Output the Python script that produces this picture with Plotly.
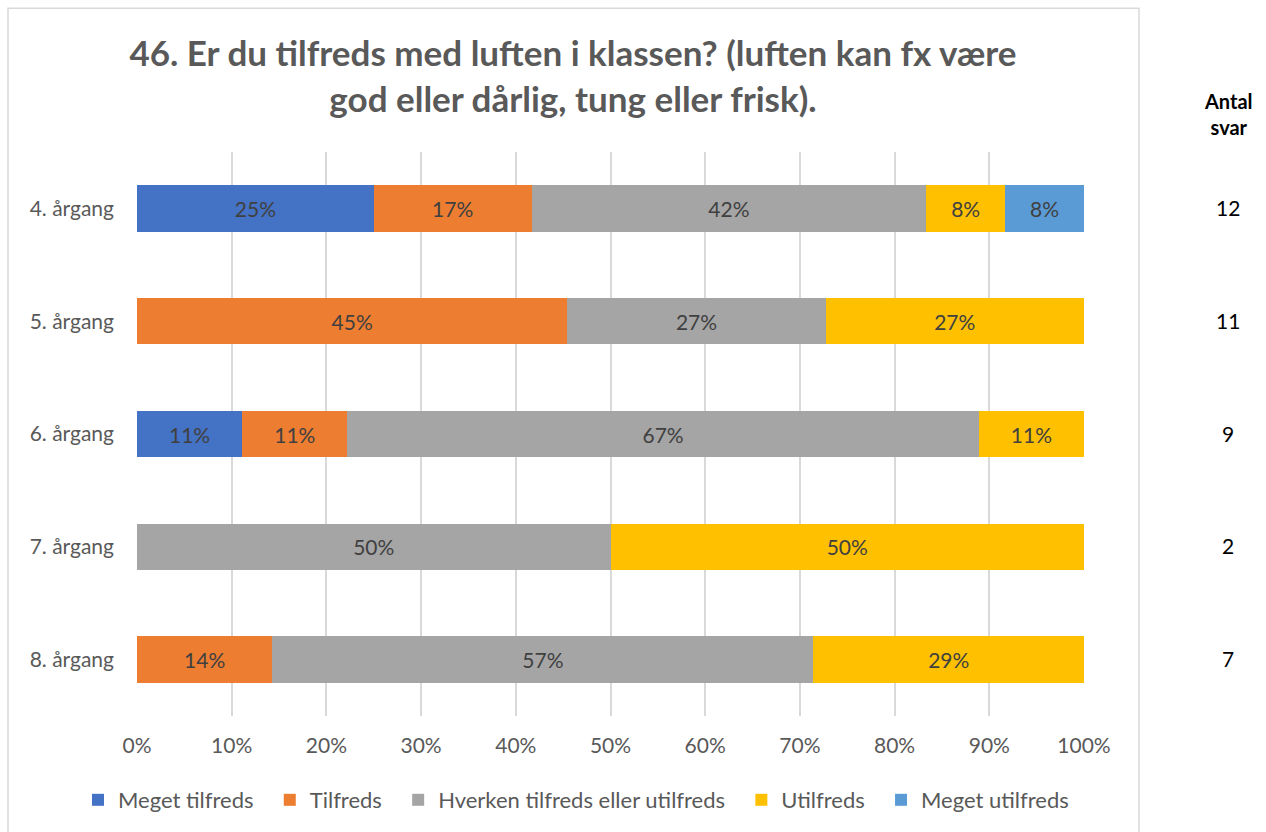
import plotly.graph_objects as go

# Survey answers per grade (share of respondents, %)
grades = ["4. årgang", "5. årgang", "6. årgang", "7. årgang", "8. årgang"]
answers = ["Meget tilfreds", "Tilfreds", "Hverken tilfreds eller utilfreds",
           "Utilfreds", "Meget utilfreds"]
meget_tilfreds = [25.0, 0, 11.11, 0, 0]
tilfreds = [16.67, 45.45, 11.11, 0, 14.29]
hverken = [41.67, 27.27, 66.67, 50.0, 57.14]
utilfreds = [8.33, 27.27, 11.11, 50.0, 28.57]
meget_utilfreds = [8.33, 0, 0, 0, 0]
antal_svar = [12, 11, 9, 2, 7]
x_ticks = [0, 10, 20, 30, 40, 50, 60, 70, 80, 90, 100]

series = [meget_tilfreds, tilfreds, hverken, utilfreds, meget_utilfreds]
colors = ["#4472C4", "#ED7D31", "#A5A5A5", "#FFC000", "#5B9BD5"]

FONT = "Lato"
PAD = "\u00a0" * 2  # extra room between legend entries

fig = go.Figure()
for name, vals, col in zip(answers, series, colors):
    labels = [f"{v:.0f}%" if v > 0 else "" for v in vals]
    fig.add_trace(go.Bar(
        y=grades, x=vals, name=name + PAD, orientation="h",
        marker=dict(color=col, line=dict(width=0)),
        text=labels, textposition="inside", insidetextanchor="middle",
        textangle=0,
        textfont=dict(family=FONT, size=21, color="#404040"),
        constraintext="none",
    ))

# "Antal svar" column on the right
col_x = (1228 - 137) / 947
annotations = [dict(
    text="<b>Antal<br>svar</b>", xref="paper", yref="paper",
    x=col_x, xanchor="center", y=(717 - 114) / 565, yanchor="middle",
    showarrow=False, align="center",
    font=dict(family=FONT, size=20, color="#000000"),
)]
for g, n in zip(grades, antal_svar):
    annotations.append(dict(
        text=str(n), xref="paper", yref="y", x=col_x, xanchor="center", y=g,
        yshift=1, showarrow=False,
        font=dict(family=FONT, size=21, color="#000000"),
    ))

fig.update_layout(
    barmode="stack",
    bargap=0.59,
    width=1266, height=832,
    margin=dict(l=137, r=182, t=152, b=115),
    paper_bgcolor="white", plot_bgcolor="white",
    title=dict(
        text="<b>46. Er du tilfreds med luften i klassen? (luften kan fx være<br>god eller dårlig, tung eller frisk).</b>",
        x=573 / 1266, xanchor="center", y=(832 - 66) / 832, yanchor="middle",
        font=dict(family=FONT, size=35, color="#595959"),
    ),
    xaxis=dict(
        range=[0, 100], tickvals=x_ticks,
        ticktext=[f"{t}%" for t in x_ticks],
        showgrid=True, gridcolor="#D9D9D9", gridwidth=2,
        zeroline=False, showline=False, ticks="",
        tickfont=dict(family=FONT, size=21, color="#595959"),
        ticklabelstandoff=15,
    ),
    yaxis=dict(
        categoryorder="array", categoryarray=grades, autorange="reversed",
        showgrid=False, zeroline=False, ticks="",
        tickfont=dict(family=FONT, size=21, color="#595959"),
        ticklabelstandoff=22,
    ),
    legend=dict(
        orientation="h", x=(78 - 137) / 947, xanchor="left",
        y=(717 - 800) / 565, yanchor="middle",
        font=dict(family=FONT, size=22, color="#595959"),
        traceorder="normal", itemwidth=30,
    ),
    annotations=annotations,
    shapes=[dict(
        type="rect", xref="paper", yref="paper",
        x0=(8 - 137) / 947, x1=(1139 - 137) / 947,
        y0=(717 - 840) / 565, y1=(717 - 8) / 565,
        line=dict(color="#D9D9D9", width=1.5), layer="below",
    )],
)

fig.write_html("out.html")
